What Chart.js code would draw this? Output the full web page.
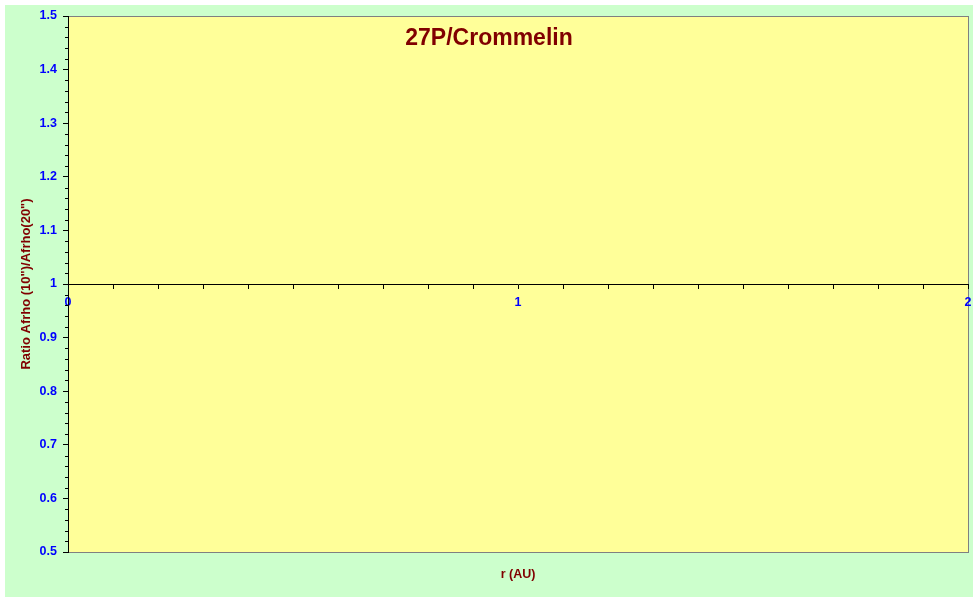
<!DOCTYPE html>
<html>
<head>
<meta charset="utf-8">
<script src="https://cdn.jsdelivr.net/npm/chart.js@4/dist/chart.umd.min.js"></script>
<style>
  body { margin: 0; background: #ffffff; }
</style>
</head>
<body>
<canvas id="spaceForGraphic" width="978" height="601"></canvas>
<script>
// Textos del grafico
const chartTitle = "27P/Crommelin";
const xTitle = "r (AU)";
const yTitle = 'Ratio Afrho (10")/Afrho(20")';

// Rangos de los ejes
const xRange = [0, 2];
const yRange = [0.5, 1.5];

// Serie: el grafico original no tiene puntos
const radius = []; // r (AU)
const ratio = [];  // Afrho(10")/Afrho(20")

const fontFamily = "'Liberation Sans', Arial, sans-serif";

// Fondo verde, area amarilla, ticks menores y textos
const fondo = {
  id: "fondo",
  beforeDraw(chart) {
    const ctx = chart.ctx;
    const a = chart.chartArea;
    ctx.save();
    ctx.fillStyle = "#ffffff";
    ctx.fillRect(0, 0, chart.width, chart.height);
    ctx.fillStyle = "#ccffcc";
    ctx.fillRect(5, 5, 968, 592);
    ctx.fillStyle = "#ffff99";
    ctx.fillRect(a.left, a.top, a.right - a.left, a.bottom - a.top);
    ctx.strokeStyle = "#808080";
    ctx.lineWidth = 1;
    ctx.strokeRect(a.left + 0.5, a.top + 0.5, a.right - a.left, a.bottom - a.top);
    ctx.restore();
  },
  afterDraw(chart) {
    const ctx = chart.ctx;
    const a = chart.chartArea;
    const yScale = chart.scales.y;
    ctx.save();
    // ticks menores del eje Y (cada 0.02)
    ctx.strokeStyle = "#000000";
    ctx.lineWidth = 1;
    ctx.beginPath();
    for (let i = 0; i <= 50; i++) {
      if (i % 5 === 0) continue;
      const y = Math.round(yScale.getPixelForValue(yRange[0] + i * 0.02)) + 0.5;
      ctx.moveTo(a.left - 3, y);
      ctx.lineTo(a.left, y);
    }
    ctx.stroke();
    // titulo
    ctx.fillStyle = "#800000";
    ctx.textAlign = "center";
    ctx.textBaseline = "middle";
    ctx.font = "bold 23px " + fontFamily;
    ctx.fillText(chartTitle, 489, 39);
    // titulo eje X
    ctx.font = "bold 12.5px " + fontFamily;
    ctx.fillText(xTitle, (a.left + a.right) / 2, 575);
    ctx.restore();
  },
};

new Chart(document.getElementById("spaceForGraphic"), {
  type: "scatter",
  data: {
    datasets: [
      {
        label: yTitle,
        data: radius.map((r, i) => ({ x: r, y: ratio[i] })),
        backgroundColor: "#000080",
        borderColor: "#000080",
      },
    ],
  },
  options: {
    responsive: false,
    animation: false,
    layout: { padding: { left: 0, top: 16, right: 10, bottom: 49 } },
    plugins: {
      legend: { display: false },
      tooltip: { enabled: false },
    },
    scales: {
      x: {
        type: "linear",
        min: xRange[0],
        max: xRange[1],
        position: { y: 1 },
        ticks: {
          stepSize: 0.1,
          autoSkip: false,
          maxRotation: 0,
          padding: 7,
          color: "#0000ff",
          font: { family: fontFamily, size: 12.5, weight: "bold" },
          callback: (v) => (Math.abs(v - Math.round(v)) < 1e-6 ? String(Math.round(v)) : ""),
        },
        grid: { drawOnChartArea: false, drawTicks: true, tickLength: 4, color: "#000000" },
        border: { display: true, color: "#000000", width: 1 },
        afterFit: (s) => {
          s.paddingLeft = 0;
          s.paddingRight = 0;
        },
      },
      y: {
        type: "linear",
        min: yRange[0],
        max: yRange[1],
        position: "left",
        ticks: {
          stepSize: 0.1,
          padding: 6,
          color: "#0000ff",
          font: { family: fontFamily, size: 12.5, weight: "bold" },
          callback: (v) => String(Number(v.toFixed(1))),
        },
        grid: { drawOnChartArea: false, drawTicks: true, tickLength: 5, color: "#000000" },
        border: { display: true, color: "#000000", width: 1 },
        title: {
          display: true,
          text: yTitle,
          color: "#800000",
          font: { family: fontFamily, size: 13, weight: "bold" },
          padding: { top: 19, bottom: 0 },
        },
        afterFit: (s) => {
          s.width = 68;
        },
      },
    },
  },
  plugins: [fondo],
});
</script>
</body>
</html>
